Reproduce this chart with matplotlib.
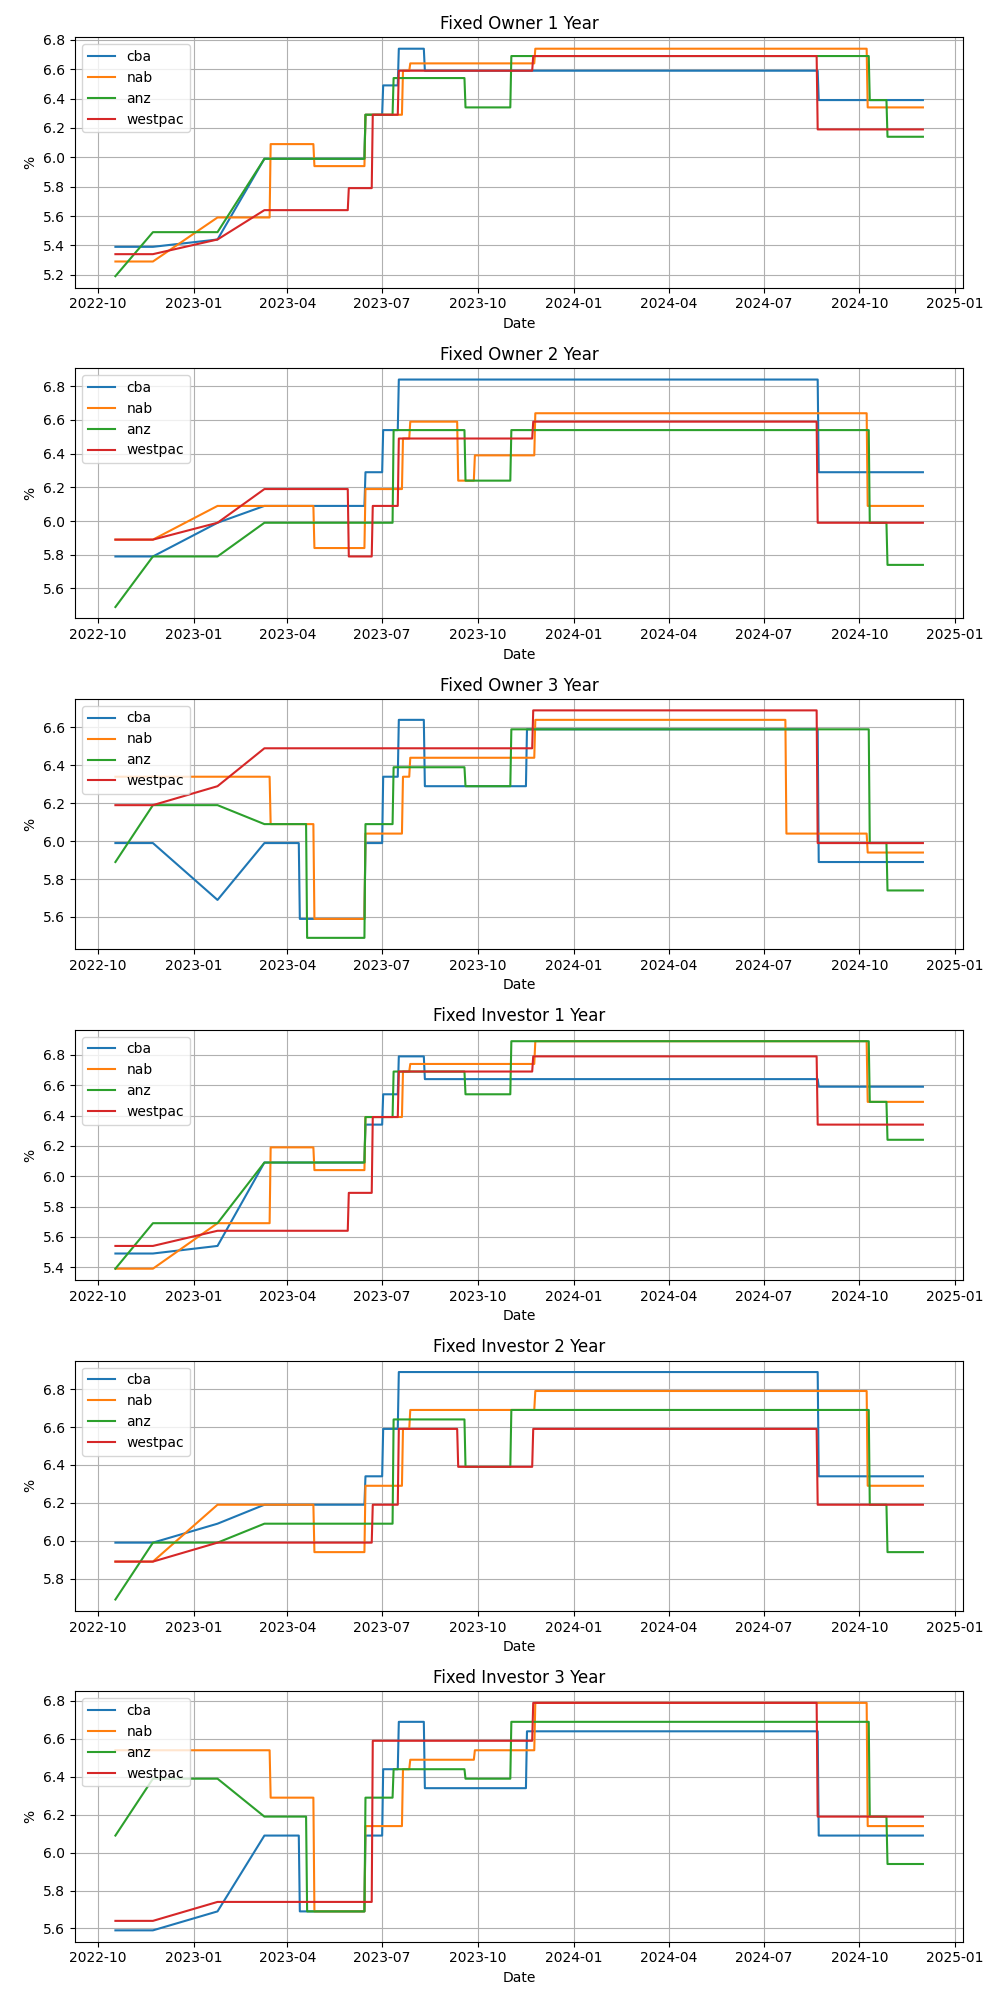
import matplotlib
matplotlib.use("Agg")
import matplotlib.pyplot as plt
import pandas as pd

# Sample dates of the early (sparse) observations
early_dates = ["2022-10-18", "2022-11-23", "2023-01-24", "2023-03-10"]
end_date = "2024-12-01"

banks = ["cba", "nab", "anz", "westpac"]
titles = ["Fixed Owner 1 Year", "Fixed Owner 2 Year", "Fixed Owner 3 Year",
          "Fixed Investor 1 Year", "Fixed Investor 2 Year", "Fixed Investor 3 Year"]

# Early values at early_dates, per product, per bank
owner1_early = {"cba": [5.39, 5.39, 5.44, 5.99], "nab": [5.29, 5.29, 5.59, 5.59],
                "anz": [5.19, 5.49, 5.49, 5.99], "westpac": [5.34, 5.34, 5.44, 5.64]}
owner1_steps = {
    "cba": [("2023-06-15", 6.29), ("2023-07-02", 6.49), ("2023-07-17", 6.74), ("2023-08-11", 6.59), ("2024-08-23", 6.39)],
    "nab": [("2023-03-16", 6.09), ("2023-04-27", 5.94), ("2023-06-15", 6.29), ("2023-07-21", 6.59), ("2023-07-28", 6.64),
            ("2023-11-25", 6.74), ("2024-10-09", 6.34)],
    "anz": [("2023-06-15", 6.29), ("2023-07-12", 6.54), ("2023-09-19", 6.34), ("2023-11-02", 6.69), ("2024-10-11", 6.39),
            ("2024-10-28", 6.14)],
    "westpac": [("2023-05-30", 5.79), ("2023-06-22", 6.29), ("2023-07-17", 6.59), ("2023-11-23", 6.69), ("2024-08-22", 6.19)],
}

owner2_early = {"cba": [5.79, 5.79, 5.99, 6.09], "nab": [5.89, 5.89, 6.09, 6.09],
                "anz": [5.49, 5.79, 5.79, 5.99], "westpac": [5.89, 5.89, 5.99, 6.19]}
owner2_steps = {
    "cba": [("2023-06-15", 6.29), ("2023-07-02", 6.54), ("2023-07-17", 6.84), ("2024-08-23", 6.29)],
    "nab": [("2023-04-27", 5.84), ("2023-06-15", 6.19), ("2023-07-21", 6.49), ("2023-07-28", 6.59), ("2023-09-12", 6.24),
            ("2023-09-28", 6.39), ("2023-11-25", 6.64), ("2024-10-09", 6.09)],
    "anz": [("2023-07-12", 6.54), ("2023-09-19", 6.24), ("2023-11-02", 6.54), ("2024-10-11", 5.99), ("2024-10-28", 5.74)],
    "westpac": [("2023-05-30", 5.79), ("2023-06-22", 6.09), ("2023-07-17", 6.49), ("2023-11-23", 6.59), ("2024-08-22", 5.99)],
}

owner3_early = {"cba": [5.99, 5.99, 5.69, 5.99], "nab": [6.34, 6.34, 6.34, 6.34],
                "anz": [5.89, 6.19, 6.19, 6.09], "westpac": [6.19, 6.19, 6.29, 6.49]}
owner3_steps = {
    "cba": [("2023-04-13", 5.59), ("2023-06-15", 5.99), ("2023-07-02", 6.34), ("2023-07-17", 6.64), ("2023-08-11", 6.29),
            ("2023-11-17", 6.59), ("2024-08-23", 5.89)],
    "nab": [("2023-03-16", 6.09), ("2023-04-27", 5.59), ("2023-06-15", 6.04), ("2023-07-21", 6.34), ("2023-07-28", 6.44),
            ("2023-11-25", 6.64), ("2024-07-23", 6.04), ("2024-10-09", 5.94)],
    "anz": [("2023-04-20", 5.49), ("2023-06-15", 6.09), ("2023-07-12", 6.39), ("2023-09-19", 6.29), ("2023-11-02", 6.59),
            ("2024-10-11", 5.99), ("2024-10-28", 5.74)],
    "westpac": [("2023-11-23", 6.69), ("2024-08-22", 5.99)],
}

inv1_early = {"cba": [5.49, 5.49, 5.54, 6.09], "nab": [5.39, 5.39, 5.69, 5.69],
              "anz": [5.39, 5.69, 5.69, 6.09], "westpac": [5.54, 5.54, 5.64, 5.64]}
inv1_steps = {
    "cba": [("2023-06-15", 6.34), ("2023-07-02", 6.54), ("2023-07-17", 6.79), ("2023-08-11", 6.64), ("2024-08-23", 6.59)],
    "nab": [("2023-03-16", 6.19), ("2023-04-27", 6.04), ("2023-06-15", 6.39), ("2023-07-21", 6.69), ("2023-07-28", 6.74),
            ("2023-11-25", 6.89), ("2024-10-09", 6.49)],
    "anz": [("2023-06-15", 6.39), ("2023-07-12", 6.69), ("2023-09-19", 6.54), ("2023-11-02", 6.89), ("2024-10-11", 6.49),
            ("2024-10-28", 6.24)],
    "westpac": [("2023-05-30", 5.89), ("2023-06-22", 6.39), ("2023-07-17", 6.69), ("2023-11-23", 6.79), ("2024-08-22", 6.34)],
}

inv2_early = {"cba": [5.99, 5.99, 6.09, 6.19], "nab": [5.89, 5.89, 6.19, 6.19],
              "anz": [5.69, 5.99, 5.99, 6.09], "westpac": [5.89, 5.89, 5.99, 5.99]}
inv2_steps = {
    "cba": [("2023-06-15", 6.34), ("2023-07-02", 6.59), ("2023-07-17", 6.89), ("2024-08-23", 6.34)],
    "nab": [("2023-04-27", 5.94), ("2023-06-15", 6.29), ("2023-07-21", 6.59), ("2023-07-28", 6.69), ("2023-11-25", 6.79),
            ("2024-10-09", 6.29)],
    "anz": [("2023-07-12", 6.64), ("2023-09-19", 6.39), ("2023-11-02", 6.69), ("2024-10-11", 6.19), ("2024-10-28", 5.94)],
    "westpac": [("2023-06-22", 6.19), ("2023-07-17", 6.59), ("2023-09-12", 6.39), ("2023-11-23", 6.59), ("2024-08-22", 6.19)],
}

inv3_early = {"cba": [5.59, 5.59, 5.69, 6.09], "nab": [6.54, 6.54, 6.54, 6.54],
              "anz": [6.09, 6.39, 6.39, 6.19], "westpac": [5.64, 5.64, 5.74, 5.74]}
inv3_steps = {
    "cba": [("2023-04-13", 5.69), ("2023-06-15", 6.09), ("2023-07-02", 6.44), ("2023-07-17", 6.69), ("2023-08-11", 6.34),
            ("2023-11-17", 6.64), ("2024-08-23", 6.09)],
    "nab": [("2023-03-16", 6.29), ("2023-04-27", 5.69), ("2023-06-15", 6.14), ("2023-07-21", 6.44), ("2023-07-28", 6.49),
            ("2023-09-28", 6.54), ("2023-11-25", 6.79), ("2024-10-09", 6.14)],
    "anz": [("2023-04-20", 5.69), ("2023-06-15", 6.29), ("2023-07-12", 6.44), ("2023-09-19", 6.39), ("2023-11-02", 6.69),
            ("2024-10-11", 6.19), ("2024-10-28", 5.94)],
    "westpac": [("2023-06-22", 6.59), ("2023-11-23", 6.79), ("2024-08-22", 6.19)],
}

products = [(owner1_early, owner1_steps), (owner2_early, owner2_steps), (owner3_early, owner3_steps),
            (inv1_early, inv1_steps), (inv2_early, inv2_steps), (inv3_early, inv3_steps)]


def build_series(early_vals, steps):
    xs = [pd.Timestamp(d) for d in early_dates]
    ys = list(early_vals)
    for d, v in steps:
        t = pd.Timestamp(d)
        xs.append(t - pd.Timedelta(days=1))
        ys.append(ys[-1])
        xs.append(t)
        ys.append(v)
    xs.append(pd.Timestamp(end_date))
    ys.append(ys[-1])
    return xs, ys


fig, axes = plt.subplots(6, 1, figsize=(10, 20), dpi=100)
for ax, title, (early, steps) in zip(axes, titles, products):
    for bank in banks:
        xs, ys = build_series(early[bank], steps[bank])
        ax.plot(xs, ys, label=bank)
    ax.set_title(title)
    ax.set_xlabel("Date")
    ax.set_ylabel("%")
    ax.grid(True)
    ax.legend(loc="upper left")

fig.tight_layout()
fig.savefig("out.png")
